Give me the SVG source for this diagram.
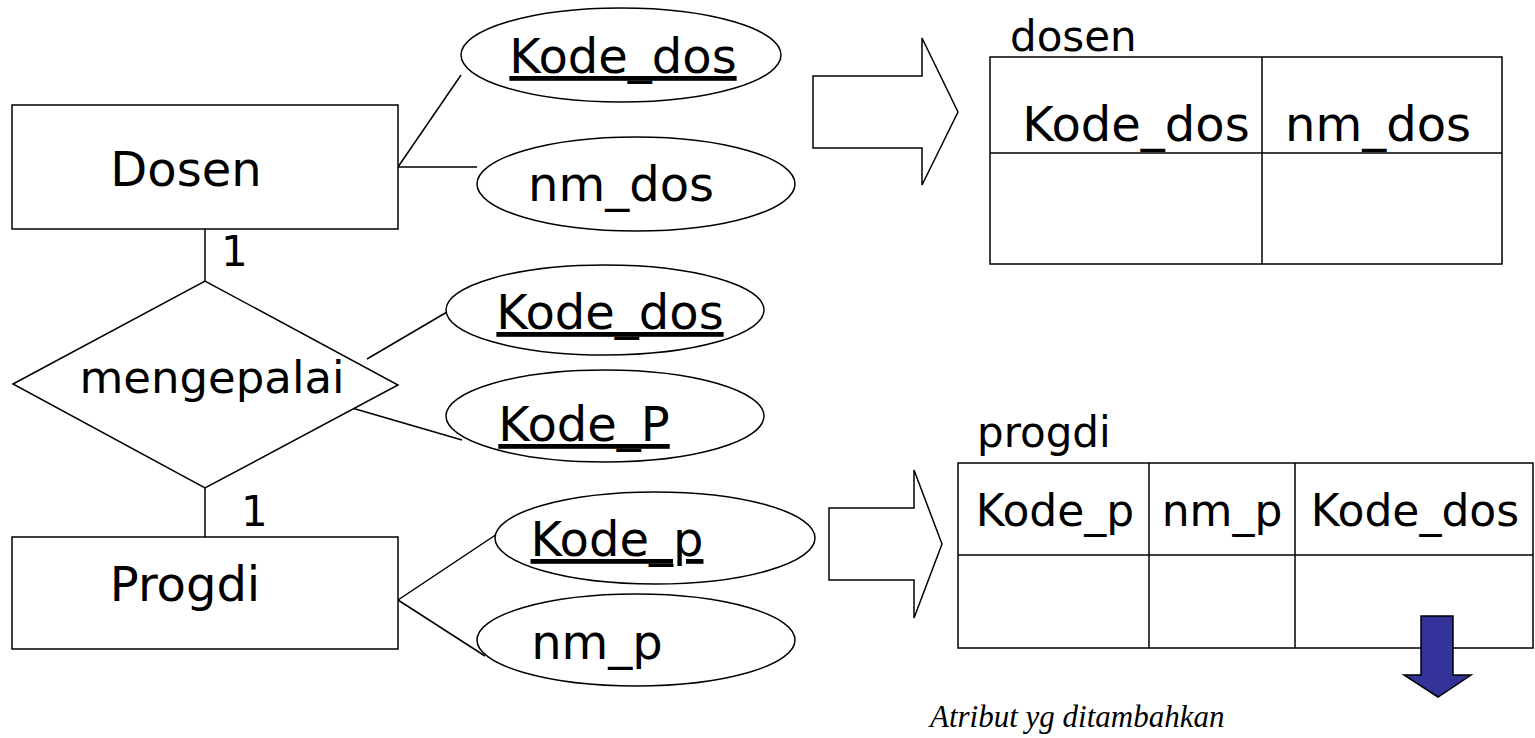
<svg xmlns="http://www.w3.org/2000/svg" width="1535" height="738" viewBox="0 0 1535 738">
<style>
.s{fill:#fff;stroke:#000;stroke-width:1.5}
.t{font-family:"DejaVu Sans",Verdana,sans-serif;font-size:48px;fill:#000}
.p{font-family:"DejaVu Sans",Verdana,sans-serif;font-size:44px;fill:#000}
.m{font-family:"DejaVu Sans",Verdana,sans-serif;font-size:42px;fill:#000}
.c{stroke:#000;stroke-width:1.5;fill:none}
.u{text-decoration:underline}
</style>
<rect width="1535" height="738" fill="#fff"/>
<g id="connectors">
<line class="c" x1="205" y1="229" x2="205" y2="281"/>
<line class="c" x1="205" y1="488" x2="205" y2="537"/>
<line class="c" x1="398" y1="167" x2="461" y2="75"/>
<line class="c" x1="398" y1="167" x2="477" y2="167"/>
<line class="c" x1="367" y1="359" x2="447" y2="312"/>
<line class="c" x1="352" y1="408" x2="462" y2="440"/>
<line class="c" x1="398" y1="600" x2="509" y2="526"/>
<line class="c" x1="398" y1="600" x2="485" y2="656"/>
<text class="m" x="221" y="266">1</text>
<text class="m" x="241" y="526">1</text>
</g>
<g id="dosen">
<rect class="s" x="12" y="105" width="386" height="124"/>
<text class="t" x="186" y="186" text-anchor="middle">Dosen</text>
</g>
<g id="mengepalai">
<polygon class="s" points="13,384 205,281 398,385 205,488"/>
<text class="p" x="212" y="393" text-anchor="middle" style="font-size:45px">mengepalai</text>
</g>
<g id="progdi">
<rect class="s" x="12" y="537" width="386" height="112"/>
<text class="t" x="185" y="601" text-anchor="middle">Progdi</text>
</g>
<g id="attr-kode-dos-1">
<ellipse class="s" cx="621" cy="55" rx="160" ry="47"/>
<text class="t u" x="623" y="73" text-anchor="middle">Kode_dos</text>
</g>
<g id="attr-nm-dos">
<ellipse class="s" cx="636" cy="184" rx="159" ry="47"/>
<text class="t" x="621" y="201" text-anchor="middle">nm_dos</text>
</g>
<g id="attr-kode-dos-2">
<ellipse class="s" cx="605" cy="310" rx="159" ry="45"/>
<text class="t u" x="610" y="329" text-anchor="middle">Kode_dos</text>
</g>
<g id="attr-kode-P">
<ellipse class="s" cx="605" cy="416" rx="159" ry="46"/>
<text class="t u" x="584" y="441" text-anchor="middle">Kode_P</text>
</g>
<g id="attr-kode-p">
<ellipse class="s" cx="655" cy="538" rx="160" ry="46"/>
<text class="t u" x="617" y="556" text-anchor="middle">Kode_p</text>
</g>
<g id="attr-nm-p">
<ellipse class="s" cx="636" cy="640" rx="159" ry="46"/>
<text class="t" x="597" y="659" text-anchor="middle">nm_p</text>
</g>
<g id="arrow-1">
<polygon class="s" points="813,76 922,76 922,38 958,112 922,185 922,148 813,148"/>
</g>
<g id="arrow-2">
<polygon class="s" points="829,508 914,508 914,470 942,544 914,618 914,580 829,580"/>
</g>
<g id="table-dosen">
<text class="m" x="1010" y="51">dosen</text>
<rect class="s" x="990" y="57" width="512" height="207"/>
<line class="c" x1="990" y1="153" x2="1502" y2="153"/>
<line class="c" x1="1262" y1="57" x2="1262" y2="264"/>
<text class="t" x="1136" y="141" text-anchor="middle">Kode_dos</text>
<text class="t" x="1378" y="141" text-anchor="middle">nm_dos</text>
</g>
<g id="table-progdi">
<text class="m" x="977" y="447">progdi</text>
<rect class="s" x="958" y="463" width="575" height="185"/>
<line class="c" x1="958" y1="555" x2="1533" y2="555"/>
<line class="c" x1="1149" y1="463" x2="1149" y2="648"/>
<line class="c" x1="1295" y1="463" x2="1295" y2="648"/>
<text class="p" x="1055" y="526" text-anchor="middle">Kode_p</text>
<text class="p" x="1222" y="526" text-anchor="middle">nm_p</text>
<text class="p" x="1415" y="526" text-anchor="middle">Kode_dos</text>
</g>
<g id="blue-arrow">
<polygon points="1421,616 1453,616 1453,675 1471,675 1438,697 1404,675 1421,675" fill="#333399" stroke="#000" stroke-width="1.5"/>
</g>
<g id="note">
<text x="930" y="727" font-family="'Liberation Serif',serif" font-style="italic" font-size="31" fill="#000">Atribut yg ditambahkan</text>
</g>
</svg>
